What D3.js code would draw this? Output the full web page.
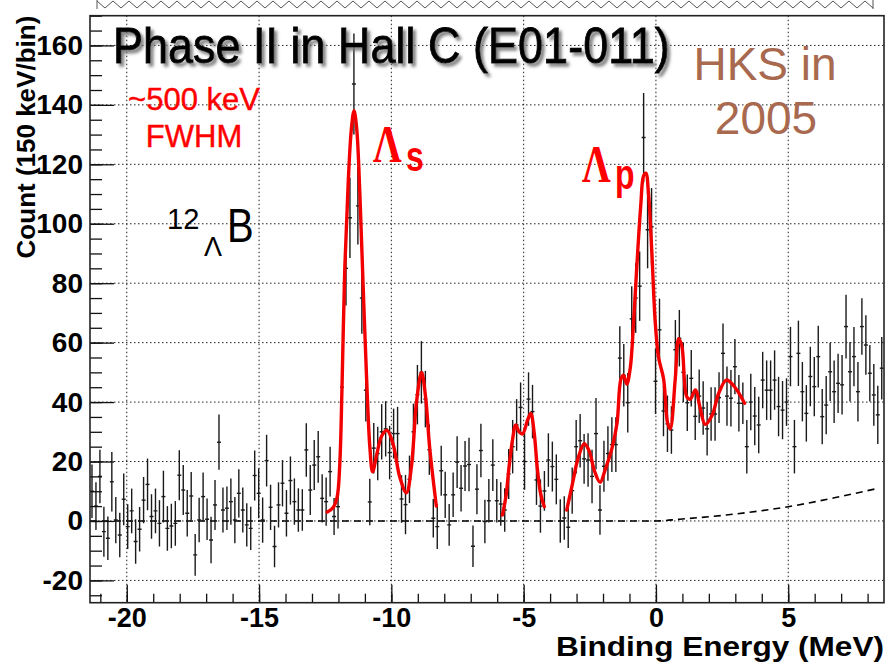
<!DOCTYPE html>
<html>
<head>
<meta charset="utf-8">
<script src="https://cdn.jsdelivr.net/npm/d3@7"></script>
<style>
  body { margin: 0; background: #fff; }
  svg { display: block; }
</style>
</head>
<body>
<svg id="chart" width="893" height="663"></svg>
<script>
// Histogram: 200 bins of 150 keV, lower edge at -21.39 MeV
const binLow = -21.39;
const binWidth = 0.15;

// Counts per bin (background subtracted)
const counts = [
  10, 5, 15, -3.6, -5.8, 13.2, 0.3, -4.7, 7.3, -1.9,
  3.4, -6.9, -2.8, 7.0, 12.3, 1.5, 3.4, -0.8, 8.2, -2.5,
  -1.7, -0.8, 15.4, 10.4, 2.6, 8.4, -11.4, 0.3, 8.2, 0.6,
  -6.4, 5.4, 26.5, 3.7, 4.3, 6.5, 0.3, 9.3, 3.7, -1.3,
  -2.5, 15.3, 9.3, 0.3, 20.3, 4.6, -8.6, 5.4, 12.7, 2.6,
  13.6, 6.5, 3.7, 3.7, 23.9, 10.4, 18.8, 21.6, 7.6, 6.5,
  16.6, 1.5, 4.8, 45, 85, 102, 147, 106, 75, 44,
  6.4, 24.5, 22.7, 30, 31, 23, 29.4, 29.4, 7.4, 5.5,
  14, 30, 42.5, 50, 41, 24, 0.9, -1.9, 16.9, 8.8,
  -1.3, 8.8, 19.8, 11, 18.5, 19, -8.5, 10.7, 23.7, -0.2,
  6.8, 18.8, 6.8, 5.7, 3.7, 15.8, 25, 32.3, 38.2, 20,
  41, 36.8, 13.8, 5, 10.1, 20.5, 18.3, 14, 0, 1,
  -2.1, 10.2, 25, 27, 20.9, 20.5, 15, 29.4, 3.7, 18.4,
  22.7, 25.7, 25.7, 54.8, 49, 39.8, 68, 75, 79, 129,
  98, 99, 47, 64.3, 37, 32.7, 30.6, 57.6, 61.5, 50,
  39.8, 48, 35.2, 42, 38, 31, 36, 36, 41.5, 56.4,
  42, 41.3, 51.9, 39.6, 39.6, 25, 40, 35.3, 32.3, 47.4,
  44, 44, 47.4, 38.5, 37.3, 40, 55.3, 25, 56.4, 43.5,
  36.2, 48.6, 45.2, 55.3, 35.1, 39, 50.2, 43.5, 46.3, 45.8,
  65.4, 50.2, 55.3, 43.5, 65.4, 59.2, 49.7, 42.4, 35.7, 51.4
];

// Statistical error per bin
const errors = [
  9, 8, 9, 8.4, 7.3, 10, 7.8, 7.5, 8.7, 7.5,
  7.5, 7.5, 7.5, 7.8, 8.7, 7.5, 7.5, 7.8, 8.7, 7.5,
  7.5, 7.5, 8.4, 8.4, 7.8, 8.1, 7, 7.5, 8.1, 7,
  7.8, 8.4, 9.3, 7.6, 7.3, 7.8, 7.8, 8.1, 7.6, 7.3,
  7.3, 8.4, 8.4, 7.6, 8.7, 7.6, 7, 7.6, 7.8, 7.8,
  8.1, 7.8, 7.3, 7, 9, 8.4, 8.4, 8.7, 8.1, 8.1,
  8.4, 6.2, 7.3, 11, 12.5, 13.5, 17, 13, 12, 10.5,
  7.8, 8.5, 9, 9.3, 9.3, 9, 8.4, 9, 8, 10,
  8, 9.5, 10, 10.5, 9.5, 8.5, 6.5, 7.5, 8.4, 7.8,
  7, 7.5, 8.7, 7.8, 8.4, 9, 7, 8.4, 9, 7.3,
  7.3, 8.7, 7.3, 7.3, 7.3, 8.4, 9, 8.7, 8.4, 9.5,
  9, 9, 8.4, 9, 6.7, 9, 8.4, 8.4, 7.3, 7.3,
  7, 7.8, 9, 9, 8.4, 9, 9, 12, 8.3, 8.6,
  9.2, 9.2, 9.2, 10.7, 10.5, 10, 11, 11.7, 11.7, 15,
  13, 13, 11, 10.5, 8.5, 9.5, 8, 10, 9.5, 10,
  9.5, 9.5, 8, 9, 9, 9, 9, 9, 8.5, 10,
  10, 9.5, 9.3, 9.5, 7, 9, 9.5, 9.8, 9.5, 9.5,
  10, 10, 10, 10, 9.8, 8, 10, 9, 11, 10,
  9.5, 10, 10, 10.4, 9.3, 9.8, 9.8, 10.5, 10, 10,
  10.7, 10, 10, 10, 9.5, 10, 9.5, 10.4, 9.8, 10.5
];

// Fitted spectrum, three fit ranges: [MeV, counts]
const fitLambdaS = [
  [-12.42, 3], [-12.2, 4.5], [-12.05, 8], [-11.95, 19], [-11.86, 47],
  [-11.76, 85], [-11.63, 114], [-11.51, 132], [-11.41, 138], [-11.31, 132],
  [-11.19, 110], [-11.07, 80], [-10.94, 49], [-10.81, 24.5], [-10.71, 16.5],
  [-10.56, 22], [-10.37, 28.5], [-10.16, 30.5], [-9.93, 25.7], [-9.68, 14.7],
  [-9.43, 9.5], [-9.24, 18.4], [-9.05, 40], [-8.86, 50], [-8.71, 42],
  [-8.55, 24.5], [-8.30, 5]
];
const fitMiddle = [
  [-5.80, 2], [-5.67, 8.2], [-5.55, 18.3], [-5.42, 27.3], [-5.30, 32.3],
  [-5.17, 30], [-5.04, 29.3], [-4.85, 34], [-4.73, 36.2], [-4.60, 29.5],
  [-4.49, 18.3], [-4.36, 9.3], [-4.22, 4.8]
];
const fitLambdaP = [
  [-3.37, 3.7], [-3.15, 12.7], [-2.96, 20.5], [-2.71, 26], [-2.52, 23.5],
  [-2.33, 17], [-2.11, 13], [-1.92, 17.2], [-1.66, 24.5], [-1.47, 33],
  [-1.32, 47.8], [-1.22, 49], [-1.10, 46], [-0.97, 51.5], [-0.85, 66],
  [-0.72, 86], [-0.57, 106.6], [-0.47, 116], [-0.38, 117], [-0.28, 110],
  [-0.15, 89.5], [-0.03, 67.4], [0.10, 55], [0.29, 47.8], [0.44, 33],
  [0.54, 31], [0.73, 47.8], [0.86, 61.3], [0.98, 58.8], [1.17, 41.7],
  [1.30, 41], [1.49, 44.1], [1.67, 38], [1.86, 32.5], [2.12, 35.5],
  [2.37, 42.9], [2.66, 47.4], [2.91, 45.8], [3.10, 43.5], [3.35, 39.6]
];
// Accidental background shape
const background = [
  [-21.39, 0], [0, 0], [0.9, 0.6], [2.65, 2.0], [5.0, 4.8], [6.7, 7.7], [8.4, 11]
];

const xMajor = [-20, -15, -10, -5, 0, 5];
const xMinor = d3.range(-21, 9, 1);
const yMajor = [-20, 0, 20, 40, 60, 80, 100, 120, 140, 160];
const yMinor = d3.range(-25, 171, 5);

const svg = d3.select("#chart");
const frame = { left: 90, right: 884, top: 15.7, bottom: 602.7 };

const x = d3.scaleLinear().domain([-21.39, 8.62]).range([frame.left, frame.right]);
const y = d3.scaleLinear().domain([-27.5, 170]).range([frame.bottom, frame.top]);

svg.append("rect").attr("width", 893).attr("height", 663).attr("fill", "#fff");

const defs = svg.append("defs");
defs.append("clipPath").attr("id", "plotClip")
  .append("rect")
  .attr("x", frame.left).attr("y", frame.top)
  .attr("width", frame.right - frame.left).attr("height", frame.bottom - frame.top);
const shadow = defs.append("filter").attr("id", "titleShadow")
  .attr("x", "-5%").attr("y", "-20%").attr("width", "115%").attr("height", "150%");
shadow.append("feDropShadow")
  .attr("dx", 3).attr("dy", 3).attr("stdDeviation", 1.6)
  .attr("flood-color", "#777").attr("flood-opacity", 0.9);

// torn-paper edge along the top
const zz = d3.range(97, 874, 8).map((px, i) => [px, i % 2 === 0 ? 1 : 8]);
svg.append("path")
  .attr("d", d3.line()(zz))
  .attr("fill", "none").attr("stroke", "#555").attr("stroke-width", 1);
svg.append("line").attr("x1", 97).attr("x2", 97).attr("y1", 0).attr("y2", 9)
  .attr("stroke", "#555");
svg.append("line").attr("x1", 873).attr("x2", 873).attr("y1", 0).attr("y2", 9)
  .attr("stroke", "#555");

// grid
const grid = svg.append("g").attr("stroke", "#222").attr("stroke-width", 1)
  .attr("stroke-dasharray", "1.5,2.5");
grid.selectAll("line.gx").data(xMajor).join("line")
  .attr("x1", d => x(d)).attr("x2", d => x(d))
  .attr("y1", frame.top).attr("y2", frame.bottom);
grid.selectAll("line.gy").data(yMajor).join("line")
  .attr("y1", d => y(d)).attr("y2", d => y(d))
  .attr("x1", frame.left).attr("x2", frame.right);

const plot = svg.append("g").attr("clip-path", "url(#plotClip)");

// background function
plot.append("path")
  .attr("d", d3.line().x(d => x(d[0])).y(d => y(d[1])).curve(d3.curveMonotoneX)(background))
  .attr("fill", "none").attr("stroke", "#000").attr("stroke-width", 1.6)
  .attr("stroke-dasharray", "7,5");

// data points with error bars
const bins = counts.map((v, i) => ({ c: binLow + binWidth * (i + 0.5), v, e: errors[i] }));
const pts = plot.append("g").attr("stroke", "#1a1a1a").attr("stroke-width", 1.4);
pts.selectAll("line.ev").data(bins).join("line")
  .attr("x1", d => x(d.c)).attr("x2", d => x(d.c))
  .attr("y1", d => y(d.v - d.e)).attr("y2", d => y(d.v + d.e));
pts.selectAll("line.eh").data(bins).join("line")
  .attr("x1", d => x(d.c - binWidth / 2)).attr("x2", d => x(d.c + binWidth / 2))
  .attr("y1", d => y(d.v)).attr("y2", d => y(d.v));

// fit curves
const fitLine = d3.line().x(d => x(d[0])).y(d => y(d[1])).curve(d3.curveCatmullRom.alpha(0.5));
[fitLambdaS, fitMiddle, fitLambdaP].forEach(seg => {
  plot.append("path").attr("d", fitLine(seg))
    .attr("fill", "none").attr("stroke", "#f20000").attr("stroke-width", 3.4)
    .attr("stroke-linejoin", "round").attr("stroke-linecap", "round");
});

// axes: ticks point inward, labels outside
const fontAxis = "'Liberation Sans', Arial, sans-serif";
const plainNumber = d => String(d);
function styleAxis(size) {
  return g => {
    g.select(".domain").remove();
    g.selectAll(".tick line").attr("stroke", "#111").attr("stroke-width", 1.3);
    g.selectAll("text").attr("font-family", fontAxis).attr("font-weight", "bold")
      .attr("font-size", size).attr("fill", "#000");
  };
}
svg.append("g").attr("transform", `translate(${frame.left},0)`)
  .call(d3.axisLeft(y).tickValues(yMinor).tickSize(-12).tickFormat(""))
  .call(styleAxis(28));
svg.append("g").attr("transform", `translate(${frame.left},0)`)
  .call(d3.axisLeft(y).tickValues(yMajor).tickSize(-24).tickPadding(7).tickFormat(plainNumber))
  .call(styleAxis(28));
svg.append("g").attr("transform", `translate(0,${frame.bottom})`)
  .call(d3.axisBottom(x).tickValues(xMinor).tickSize(-9).tickFormat(""))
  .call(styleAxis(26));
svg.append("g").attr("transform", `translate(0,${frame.bottom})`)
  .call(d3.axisBottom(x).tickValues(xMajor).tickSize(-18).tickPadding(5).tickFormat(plainNumber))
  .call(styleAxis(27));

// frame
svg.append("rect")
  .attr("x", frame.left).attr("y", frame.top)
  .attr("width", frame.right - frame.left).attr("height", frame.bottom - frame.top)
  .attr("fill", "none").attr("stroke", "#222").attr("stroke-width", 1.6);

// axis titles
svg.append("text")
  .attr("transform", `translate(35,${frame.top}) rotate(-90)`)
  .attr("text-anchor", "end")
  .attr("font-family", fontAxis).attr("font-weight", "bold").attr("font-size", 26)
  .text("Count (150 keV/bin)");
svg.append("text")
  .attr("transform", `translate(${frame.right},656) scale(1.17,1.05)`)
  .attr("text-anchor", "end")
  .attr("font-family", fontAxis).attr("font-weight", "bold").attr("font-size", 27)
  .text("Binding Energy (MeV)");

// slide annotations
svg.append("text")
  .attr("transform", "translate(113,63) scale(1,1.1)")
  .attr("font-family", fontAxis).attr("font-size", 45).attr("fill", "#000")
  .attr("stroke", "#000").attr("stroke-width", 0.8)
  .attr("filter", "url(#titleShadow)")
  .text("Phase II in Hall C (E01-011)");

const hks = svg.append("g").attr("font-family", fontAxis).attr("font-size", 46)
  .attr("fill", "#a8694f").attr("text-anchor", "middle");
hks.append("text").attr("x", 765).attr("y", 80).text("HKS in");
hks.append("text").attr("x", 766).attr("y", 134).text("2005");

const res = svg.append("g").attr("font-family", fontAxis).attr("font-size", 31)
  .attr("fill", "#ff0000").attr("text-anchor", "middle")
  .attr("stroke", "#ff0000").attr("stroke-width", 0.4);
res.append("text").attr("x", 194).attr("y", 110).text("~500 keV");
res.append("text").attr("x", 194).attr("y", 147).text("FWHM");

// hypernucleus symbol
const hyp = svg.append("g").attr("font-family", fontAxis).attr("fill", "#000");
hyp.append("text").attr("x", 167).attr("y", 229).attr("font-size", 29).text("12");
hyp.append("text").attr("x", 204).attr("y", 256).attr("font-size", 27).text("Λ");
hyp.append("text").attr("transform", "translate(227,242) scale(1,1.2)")
  .attr("font-size", 40).text("B");

// peak labels
function peakLabel(px, py, sub, subDy) {
  const g = svg.append("g").attr("transform", `translate(${px},${py}) scale(1,1.3)`)
    .attr("fill", "#ff0000");
  g.append("text").attr("x", 0).attr("y", 0)
    .attr("font-family", "'Liberation Serif', 'Times New Roman', serif")
    .attr("font-weight", "bold").attr("font-size", 40).text("Λ");
  g.append("text").attr("x", 33).attr("y", subDy)
    .attr("font-family", fontAxis).attr("font-weight", "bold").attr("font-size", 32).text(sub);
}
peakLabel(373, 162, "s", 6.9);
peakLabel(582, 182, "p", 5.6);
</script>
</body>
</html>
